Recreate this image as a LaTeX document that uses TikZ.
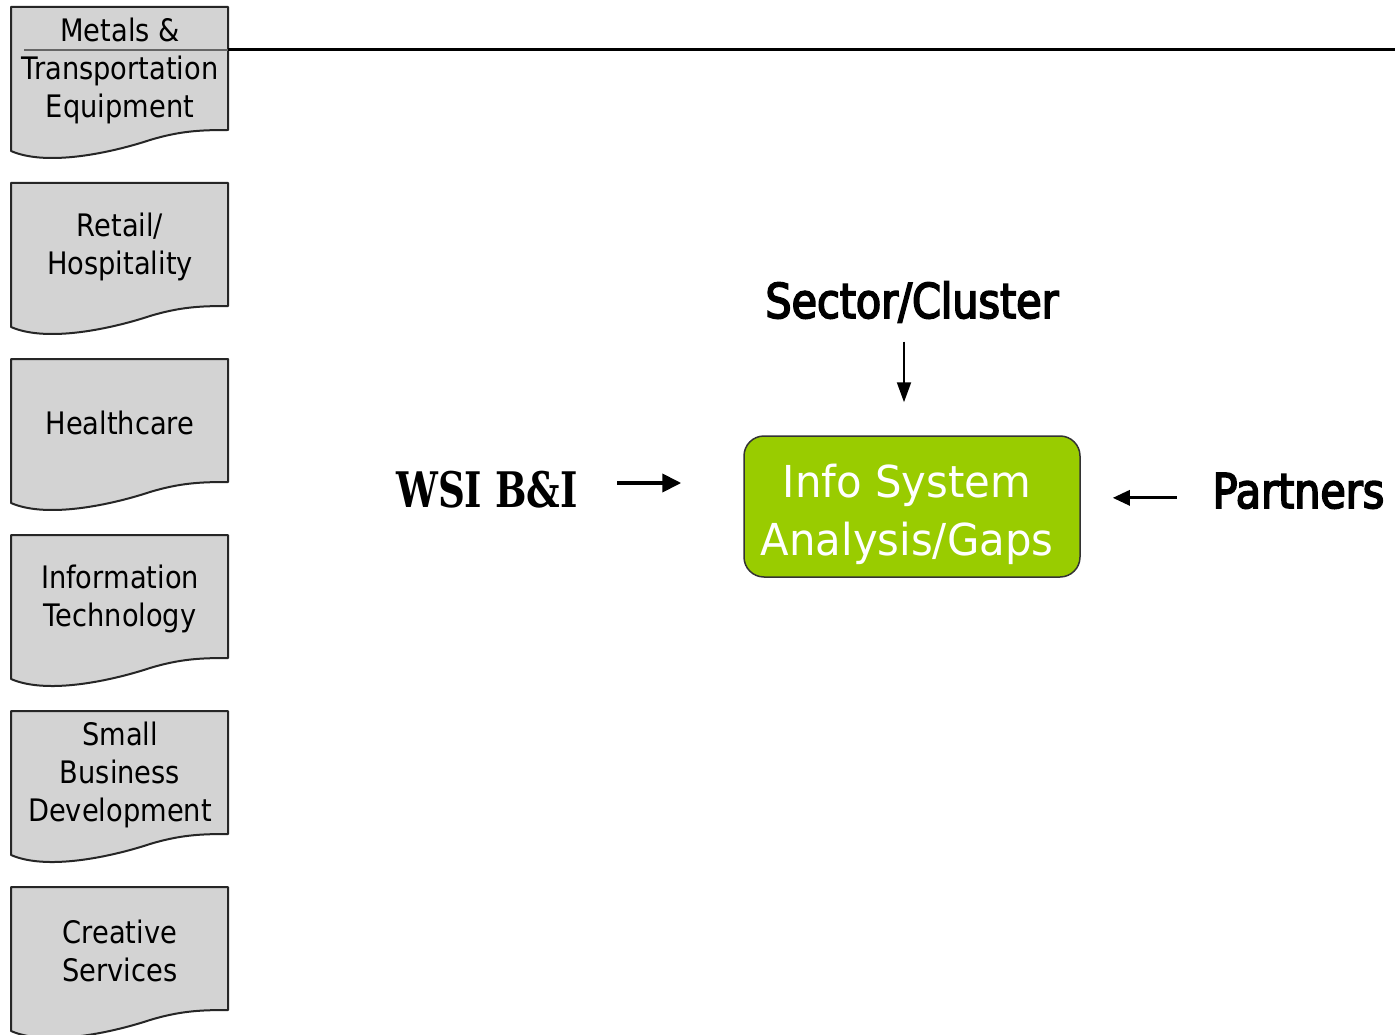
\documentclass[tikz,border=0pt]{standalone}
\usepackage{fontspec}
\setmainfont{DejaVu Sans}
\newfontfamily\boxfont[FakeStretch=0.88]{DejaVu Sans}
\newfontfamily\headfont[FakeStretch=0.86,FakeBold=3.5]{DejaVu Sans}
\newfontfamily\infofont[FakeStretch=0.95]{DejaVu Sans}
\newfontfamily\serifhead[FakeStretch=0.76]{DejaVu Serif}
\usetikzlibrary{arrows.meta}
\definecolor{boxgray}{HTML}{D3D3D3}
\definecolor{infogreen}{HTML}{99CC00}
\tikzset{
  docline/.style={draw=black!85, line width=2pt, fill=boxgray, line join=round},
  pics/docshape/.style={code={
    \path[docline] (0,0) -- (217,0) -- (217,123)
      .. controls (189,123) and (169,124) .. (139,133)
      .. controls (109,143) and (39,161) .. (0,144) -- cycle;}},
  doctext/.style={align=center, inner sep=0pt, font=\boxfont\fontsize{31}{38}\selectfont},
  heading/.style={inner sep=0pt, font=\headfont\fontsize{48}{56}\selectfont},
  arrwsi/.style={line width=4pt, -{Triangle[length=19pt,width=18pt]}},
  arrsec/.style={line width=2pt, -{Triangle[length=20pt,width=14pt]}},
  arrpar/.style={line width=3pt, -{Triangle[length=17pt,width=15pt]}},
}
\begin{document}
\begin{tikzpicture}[x=1pt,y=-1pt]
\clip (0,0) rectangle (1395,1035);
\fill[white] (0,0) rectangle (1395,1035);
% document boxes
\foreach \t in {7,183,359,535,711,887}{
  \pic at (11,\t) {docshape};
}
\node[doctext] (b1) at (120,71) {Metals \&\\Transportation\\Equipment};
\node[doctext] (b2) at (120,247) {Retail/\\Hospitality};
\node[doctext] (b3) at (120,423) {Healthcare};
\node[doctext] (b4) at (120,599) {Information\\Technology};
\node[doctext] (b5) at (120,775) {Small\\Business\\Development};
\node[doctext] (b6) at (120,951) {Creative\\Services};
% top rule
\coordinate (r0) at (24,50);
\coordinate (r1) at (228,50);
\coordinate (r2) at (1395,50);
\draw[line width=3pt, black] (r1) -- (r2);
\draw[line width=2.5pt, black!60] (r0) -- (r1);
% centre box
\node[draw=black!80, line width=1.5pt, fill=infogreen, rounded corners=20pt,
      minimum width=336pt, minimum height=141pt, inner sep=0pt] (info) at (912,506.5) {};
\node[align=center, inner sep=0pt, text=white, font=\infofont\fontsize{44}{58}\selectfont]
      (infotext) at (907,514.5) {Info System\\Analysis/Gaps};
% labels
\node[inner sep=0pt, font=\serifhead\bfseries\fontsize{49}{56}\selectfont] (wsi) at (487,490) {WSI B\&I};
\node[heading, anchor=base] (sector) at (912,318) {Sector/Cluster};
\node[heading, anchor=base] (partners) at (1298.5,508) {Partners};
% arrows
\draw[arrwsi, shorten <=39pt, shorten >=62pt] ([yshift=7pt]wsi.east) -- ([yshift=7pt]wsi.east -| info.west);
\draw[arrsec, shorten <=19pt, shorten >=33pt] ([xshift=-8pt]sector.south) -- ([xshift=-8pt]sector.south |- info.north);
\draw[arrpar, shorten <=36pt, shorten >=32pt] ([yshift=-7pt]partners.west) -- ([yshift=-7pt]partners.west -| info.east);
\end{tikzpicture}
\end{document}
